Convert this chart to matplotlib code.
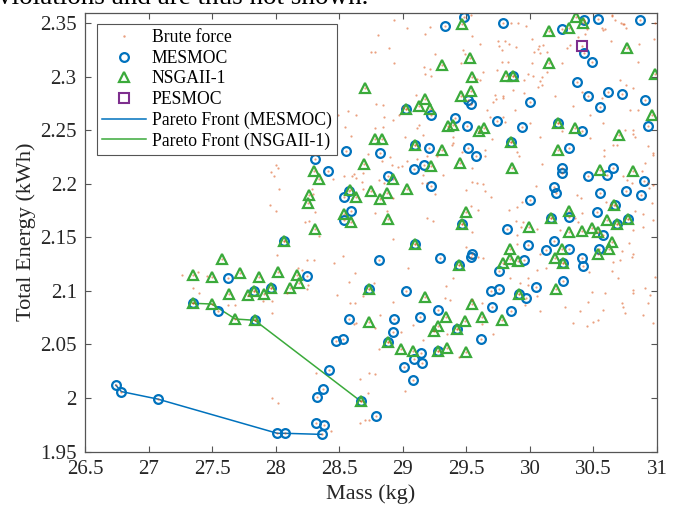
import numpy as np
import matplotlib
matplotlib.use("Agg")
import matplotlib.pyplot as plt
from matplotlib.ticker import FuncFormatter

plt.rcParams['font.family'] = ['Liberation Serif', 'DejaVu Serif']

# MESMOC evaluations (mass kg, total energy kWh)
mesmoc_mass = [26.742, 26.786, 27.072, 28.013, 28.076, 28.362, 28.318, 28.380, 28.323, 28.375,
               28.417, 28.473, 28.532, 28.669, 28.790, 28.580, 28.931, 28.926, 28.886, 29.136,
               29.280, 29.700, 29.852, 29.429, 29.618, 29.141, 29.091, 29.152, 29.275, 29.010,
               29.083, 27.830, 27.961, 27.627, 28.247, 28.068, 28.737, 29.026, 28.811, 29.289,
               29.445, 29.545, 29.535, 29.760, 29.694, 29.760, 29.912, 29.970, 30.051, 30.261,
               30.259, 30.421, 30.411, 30.310, 30.192, 30.127, 29.986, 29.954, 30.544, 30.573,
               30.683, 30.770, 30.666, 30.531, 30.552, 30.759, 30.875, 30.900, 30.605, 30.652,
               30.458, 30.253, 30.253, 30.190, 30.203, 30.001, 29.816, 30.167, 30.306, 29.464,
               29.093, 29.218, 29.090, 29.169, 28.884, 28.538, 28.577, 28.589, 28.539, 28.410,
               28.308, 28.552, 28.819, 29.096, 29.208, 29.513, 29.574, 29.852, 30.306, 29.024,
               29.218, 29.411, 29.510, 29.537, 29.508, 29.742, 29.938, 30.220, 30.408, 30.004,
               29.870, 30.373, 30.454, 30.615, 30.727, 30.902, 30.552, 30.930, 30.426, 30.488,
               29.332, 29.482, 29.785, 30.253, 30.426, 30.539, 30.863, 27.347, 27.546, 27.835]
mesmoc_energy = [2.012, 2.006, 1.999, 1.967, 1.967, 1.966, 1.977, 1.975, 2.001, 2.008,
                 2.026, 2.053, 2.055, 1.997, 1.983, 2.074, 2.074, 2.062, 2.052, 2.076,
                 2.082, 2.085, 2.081, 2.064, 2.055, 2.042, 2.036, 2.033, 2.044, 2.029,
                 2.017, 2.100, 2.103, 2.112, 2.114, 2.147, 2.102, 2.100, 2.129, 2.131,
                 2.124, 2.135, 2.132, 2.119, 2.100, 2.102, 2.097, 2.093, 2.104, 2.109,
                 2.126, 2.123, 2.131, 2.139, 2.147, 2.138, 2.143, 2.129, 2.139, 2.152,
                 2.163, 2.167, 2.180, 2.174, 2.192, 2.193, 2.190, 2.203, 2.208, 2.215,
                 2.207, 2.215, 2.210, 2.197, 2.192, 2.185, 2.158, 2.168, 2.169, 2.163,
                 2.144, 2.198, 2.214, 2.218, 2.207, 2.188, 2.193, 2.175, 2.166, 2.212,
                 2.223, 2.231, 2.229, 2.236, 2.234, 2.234, 2.226, 2.239, 2.234, 2.270,
                 2.264, 2.262, 2.278, 2.275, 2.254, 2.259, 2.253, 2.257, 2.249, 2.277,
                 2.301, 2.295, 2.282, 2.286, 2.284, 2.278, 2.272, 2.254, 2.322, 2.314,
                 2.348, 2.356, 2.350, 2.345, 2.353, 2.354, 2.353, 2.089, 2.081, 2.073]

# NSGAII-1 evaluations
nsga_mass = [27.347, 27.497, 27.683, 27.835, 28.669,
             27.347, 27.499, 27.580, 27.720, 27.871, 28.015, 28.164, 27.631, 27.785, 27.830,
             27.908, 27.961, 28.113, 28.185, 28.068, 28.310, 28.257, 28.265, 28.303, 28.343,
             28.691, 28.581, 28.632, 28.534, 28.594, 28.748, 28.819, 28.876, 28.880, 28.926,
             28.736, 28.734, 28.886, 29.036, 29.218, 29.093, 29.177, 29.340, 29.491, 29.547,
             29.625, 29.777, 29.280, 29.248, 29.429, 28.986, 29.078, 29.275, 29.346, 29.498,
             29.912, 29.844, 29.840, 29.791, 29.903, 29.993, 29.464, 29.496, 29.445, 30.206,
             30.194, 30.259, 30.256, 30.306, 30.411, 30.489, 30.534, 30.644, 30.621, 30.532,
             30.605, 30.683, 30.768, 30.167, 30.306, 30.665, 30.552, 30.812, 30.223, 29.856,
             29.451, 29.311, 29.096, 28.782, 28.834, 29.852, 30.351, 30.704, 29.602, 29.637,
             29.392, 29.356, 30.220, 30.963, 29.454, 29.537, 29.024, 29.130, 29.175, 29.217,
             29.810, 29.870, 29.547, 29.527, 29.311, 28.703, 30.148, 30.767, 30.981, 30.153,
             30.308, 30.363, 30.421, 29.464]
nsga_energy = [2.0885, 2.0878, 2.0738, 2.0726, 1.997,
               2.115, 2.113, 2.130, 2.117, 2.113, 2.118, 2.115, 2.097, 2.096, 2.100,
               2.097, 2.103, 2.103, 2.107, 2.147, 2.158, 2.182, 2.190, 2.212, 2.205,
               2.219, 2.194, 2.188, 2.172, 2.164, 2.193, 2.186, 2.192, 2.167, 2.205,
               2.102, 2.071, 2.052, 2.195, 2.217, 2.144, 2.094, 2.076, 2.072, 2.088,
               2.076, 2.073, 2.067, 2.063, 2.064, 2.046, 2.044, 2.044, 2.047, 2.043,
               2.097, 2.139, 2.130, 2.126, 2.128, 2.160, 2.163, 2.174, 2.124, 2.102,
               2.131, 2.126, 2.139, 2.155, 2.156, 2.159, 2.155, 2.146, 2.139, 2.135,
               2.166, 2.163, 2.167, 2.168, 2.175, 2.180, 2.213, 2.212, 2.232, 2.215,
               2.220, 2.232, 2.236, 2.242, 2.242, 2.239, 2.252, 2.246, 2.249, 2.252,
               2.255, 2.254, 2.257, 2.264, 2.282, 2.287, 2.270, 2.273, 2.279, 2.270,
               2.301, 2.301, 2.300, 2.318, 2.311, 2.290, 2.313, 2.327, 2.303, 2.343,
               2.346, 2.356, 2.350, 2.349]

# PESMOC (only one feasible point)
pesmoc_mass = [30.410]
pesmoc_energy = [2.329]

# Pareto fronts
mesmoc_front_mass = [26.742, 26.786, 27.072, 28.013, 28.076, 28.362]
mesmoc_front_energy = [2.012, 2.006, 1.999, 1.967, 1.967, 1.966]
nsga_front_mass = [27.347, 27.497, 27.683, 27.835, 28.669]
nsga_front_energy = [2.0885, 2.0878, 2.0738, 2.0726, 1.997]

# brute force grid points not covered by the markers above
brute_extra = [
    (28.934, 2.353), (29.031, 2.346), (29.214, 2.347), (29.175, 2.340), (28.808, 2.339),
    (28.748, 2.323), (28.782, 2.323), (28.894, 2.327), (29.254, 2.321), (28.934, 2.313),
    (29.170, 2.309), (29.214, 2.307), (29.175, 2.303), (29.222, 2.301), (28.787, 2.275),
    (28.847, 2.274), (28.567, 2.268), (28.632, 2.264), (28.493, 2.264), (28.850, 2.263),
    (28.926, 2.260), (28.546, 2.253), (28.842, 2.253), (28.593, 2.245), (29.018, 2.244),
    (29.162, 2.246), (29.110, 2.252), (29.130, 2.255), (29.385, 2.236), (29.393, 2.244),
    (28.729, 2.228), (28.900, 2.225), (29.189, 2.226), (29.267, 2.226), (29.102, 2.283),
    (29.004, 2.272), (28.782, 2.252), (28.973, 2.264), (28.913, 2.218), (28.834, 2.221),
    (28.003, 2.218), (29.535, 2.358), (29.849, 2.350), (29.909, 2.350), (29.970, 2.348),
    (29.547, 2.338), (29.608, 2.331), (29.747, 2.334), (29.805, 2.334), (29.760, 2.329),
    (29.838, 2.331), (29.891, 2.328), (29.779, 2.325), (30.019, 2.335), (30.074, 2.329),
    (30.106, 2.330), (30.062, 2.326), (30.035, 2.323), (30.133, 2.323), (30.080, 2.322),
    (30.019, 2.313), (29.783, 2.314), (29.831, 2.314), (29.739, 2.306), (29.634, 2.305),
    (30.251, 2.313), (30.316, 2.330), (30.290, 2.327), (30.381, 2.337), (30.434, 2.340),
    (30.447, 2.345), (30.565, 2.346), (30.591, 2.345), (30.649, 2.357), (30.670, 2.353),
    (30.715, 2.350), (30.735, 2.349), (30.754, 2.346), (30.636, 2.334), (30.853, 2.314),
    (29.988, 2.303), (29.954, 2.297), (30.027, 2.301), (30.093, 2.300), (30.133, 2.305),
    (30.080, 2.296), (30.067, 2.291), (30.093, 2.292), (29.956, 2.285), (29.726, 2.283),
    (29.791, 2.282), (29.791, 2.280), (29.734, 2.279), (29.865, 2.288), (29.713, 2.277),
    (29.661, 2.269), (29.687, 2.263), (29.791, 2.263), (29.805, 2.258), (29.883, 2.269),
    (29.700, 2.242), (30.198, 2.282), (30.337, 2.273), (30.408, 2.286), (30.709, 2.297),
    (30.757, 2.292), (30.809, 2.290), (30.565, 2.280), (30.788, 2.269), (30.853, 2.269),
    (30.473, 2.264), (30.578, 2.257), (30.749, 2.250), (30.814, 2.250), (30.473, 2.243),
    (30.657, 2.236), (30.683, 2.236), (30.814, 2.247), (30.827, 2.244), (30.932, 2.235),
    (30.971, 2.229), (30.586, 2.232), (29.897, 2.230), (29.917, 2.226), (29.647, 2.226),
    (29.398, 2.238), (29.464, 2.230), (30.001, 2.257), (30.080, 2.244), (30.256, 2.249),
    (29.608, 2.297), (29.582, 2.298), (29.476, 2.325), (29.490, 2.321), (29.456, 2.313),
    (30.977, 2.335), (30.644, 2.358), (30.741, 2.349), (30.861, 2.331), (30.578, 2.344),
    (30.985, 2.350),
    (28.021, 2.215), (27.961, 2.211), (27.987, 2.207), (28.026, 2.195), (27.956, 2.180),
    (28.000, 2.175), (28.231, 2.164), (28.262, 2.165), (28.343, 2.151), (28.008, 2.134),
    (28.249, 2.129), (28.302, 2.129), (28.459, 2.126), (28.532, 2.133), (28.178, 2.121),
    (28.540, 2.207), (28.598, 2.207), (28.632, 2.206), (28.616, 2.209), (28.454, 2.205),
    (28.690, 2.195), (28.816, 2.204), (28.855, 2.201), (28.960, 2.216), (28.994, 2.217),
    (29.031, 2.221), (29.110, 2.223), (29.162, 2.208), (29.189, 2.201), (29.152, 2.201),
    (29.319, 2.208), (29.254, 2.191), (28.926, 2.187), (28.782, 2.173), (28.874, 2.175),
    (29.189, 2.168), (29.236, 2.165), (29.039, 2.121), (28.624, 2.117), (28.580, 2.108),
    (28.774, 2.107), (29.340, 2.105), (29.398, 2.112), (29.332, 2.093), (29.372, 2.092),
    (28.257, 2.106), (28.485, 2.096), (28.690, 2.095), (28.284, 2.195), (28.296, 2.191),
    (28.310, 2.174), (27.261, 2.115), (27.391, 2.118), (27.347, 2.103), (27.399, 2.098),
    (27.458, 2.114), (27.627, 2.087), (27.680, 2.087), (27.903, 2.091), (27.969, 2.091),
    (27.969, 2.079), (28.087, 2.098), (28.205, 2.120), (28.249, 2.102), (28.585, 2.089),
    (28.624, 2.089), (28.926, 2.090), (28.821, 2.078), (28.677, 2.202), (28.690, 2.210),
    (28.926, 2.149), (27.969, 2.000), (28.021, 1.995), (28.318, 2.023), (28.664, 2.018),
    (28.737, 2.023), (28.782, 2.022), (28.729, 2.005), (28.664, 1.977), (28.703, 1.979),
    (28.737, 1.979), (28.433, 1.969), (28.816, 2.046), (28.619, 2.069), (28.782, 2.065),
    (28.632, 2.070), (28.986, 2.062), (29.083, 2.068), (29.162, 2.054), (29.018, 2.007),
    (29.445, 2.038), (29.626, 2.089), (29.708, 2.060), (29.621, 2.069), (30.059, 2.095),
    (29.346, 2.060),
    (29.543, 2.215), (29.647, 2.232), (30.093, 2.219), (29.543, 2.202), (29.582, 2.201),
    (29.634, 2.200), (29.498, 2.194), (29.647, 2.193), (29.694, 2.188), (30.048, 2.198),
    (29.941, 2.183), (29.838, 2.176), (29.901, 2.178), (29.891, 2.165), (29.944, 2.164),
    (29.928, 2.160), (30.054, 2.158), (29.537, 2.179), (29.590, 2.176), (29.543, 2.155),
    (29.498, 2.141), (29.594, 2.132), (29.634, 2.131), (29.897, 2.144), (29.897, 2.152),
    (30.080, 2.135), (30.059, 2.120), (30.127, 2.121), (29.988, 2.112), (29.844, 2.112),
    (29.923, 2.107), (30.237, 2.157), (30.377, 2.164), (30.408, 2.173), (30.355, 2.168),
    (30.369, 2.190), (30.403, 2.187), (30.586, 2.226), (30.735, 2.207), (30.762, 2.204),
    (30.801, 2.201), (30.599, 2.183), (30.631, 2.180), (30.888, 2.172), (30.827, 2.175),
    (30.964, 2.182), (30.938, 2.196), (30.932, 2.201), (30.971, 2.199), (30.880, 2.212),
    (30.906, 2.220), (30.971, 2.227), (30.967, 2.166), (30.814, 2.135), (30.801, 2.132),
    (30.893, 2.160), (29.543, 2.092), (29.983, 2.106), (30.468, 2.118), (30.652, 2.127),
    (30.814, 2.157), (30.783, 2.145), (30.723, 2.137), (30.709, 2.129), (30.696, 2.112),
    (30.644, 2.119), (30.591, 2.098), (30.578, 2.082), (30.539, 2.073), (30.906, 2.103),
    (30.945, 2.096), (30.985, 2.113), (30.749, 2.079), (30.814, 2.101), (30.809, 2.098),
    (30.731, 2.085), (30.723, 2.089), (30.893, 2.078), (30.932, 2.089), (30.487, 2.099),
    (30.460, 2.090), (30.277, 2.085), (29.962, 2.087), (30.080, 2.081), (30.395, 2.081),
    (30.499, 2.071), (30.342, 2.070), (30.447, 2.067), (30.971, 2.070),
]

x_ticks = [26.5, 27, 27.5, 28, 28.5, 29, 29.5, 30, 30.5, 31]
y_ticks = [1.95, 2.0, 2.05, 2.1, 2.15, 2.2, 2.25, 2.3, 2.35]

c_blue = '#0072BD'
c_orange = '#D95319'
c_green = '#3BAA3B'
c_purple = '#7E2F8E'
c_axis = '#262626'

# every evaluated point is also a brute force point
brute_mass = [p[0] for p in brute_extra] + mesmoc_mass + nsga_mass + pesmoc_mass
brute_energy = [p[1] for p in brute_extra] + mesmoc_energy + nsga_energy + pesmoc_energy

fig = plt.figure(figsize=(6.78, 5.08), dpi=100)
ax = fig.add_axes([0.1254, 0.1112, 0.8437, 0.8638])

ax.plot(brute_mass, brute_energy, '.', color=c_orange, ms=3.2, alpha=0.55,
        mec='none', label='Brute force', zorder=3)
ax.plot(mesmoc_mass, mesmoc_energy, 'o', mfc='none', mec=c_blue, mew=1.6, ms=6.3,
        label='MESMOC', zorder=2)
ax.plot(nsga_mass, nsga_energy, '^', mfc='none', mec=c_green, mew=1.6, ms=7.6,
        label='NSGAII-1', zorder=2)
ax.plot(pesmoc_mass, pesmoc_energy, 's', mfc='none', mec=c_purple, mew=1.5, ms=6.5,
        label='PESMOC', zorder=2)
ax.plot(mesmoc_front_mass, mesmoc_front_energy, '-', color=c_blue, lw=1.1,
        label='Pareto Front (MESMOC)', zorder=1)
ax.plot(nsga_front_mass, nsga_front_energy, '-', color=c_green, lw=1.1,
        label='Pareto Front (NSGAII-1)', zorder=1)

ax.set_xlim(26.5, 31)
ax.set_ylim(1.95, 2.36)
ax.set_xticks(x_ticks)
ax.set_yticks(y_ticks)
fmt = FuncFormatter(lambda v, p: '%g' % round(v, 3))
ax.xaxis.set_major_formatter(fmt)
ax.yaxis.set_major_formatter(fmt)
ax.tick_params(direction='in', length=4, width=0.8, color='#555555',
               top=True, right=True, labelsize=15, labelcolor=c_axis)
ax.tick_params(axis='x', pad=6)
ax.tick_params(axis='y', pad=6)
for s in ax.spines.values():
    s.set_color('#555555')
    s.set_linewidth(0.9)

ax.set_xlabel('Mass (kg)', fontsize=16, color=c_axis, labelpad=4)
ax.set_ylabel('Total Energy (kWh)', fontsize=16, color=c_axis, labelpad=3)

leg = ax.legend(loc='upper left', bbox_to_anchor=(0.021, 0.974), borderaxespad=0,
                fontsize=12.7, frameon=True, fancybox=False, framealpha=1,
                edgecolor='#555555', handlelength=2.5, handletextpad=0.3,
                labelspacing=0.2, borderpad=0.3)
leg.get_frame().set_linewidth(0.8)
for h in leg.legend_handles:
    if h.get_label() == 'Brute force':
        h.set_markersize(3.5)

# caption line cropped at the top edge, as in the reference
fig.text(-0.003, 1 - 4 / 508, 'violations and are thus not shown.', fontsize=19.5,
         va='baseline', ha='left', color='black')

fig.savefig('out.png', dpi=100)
